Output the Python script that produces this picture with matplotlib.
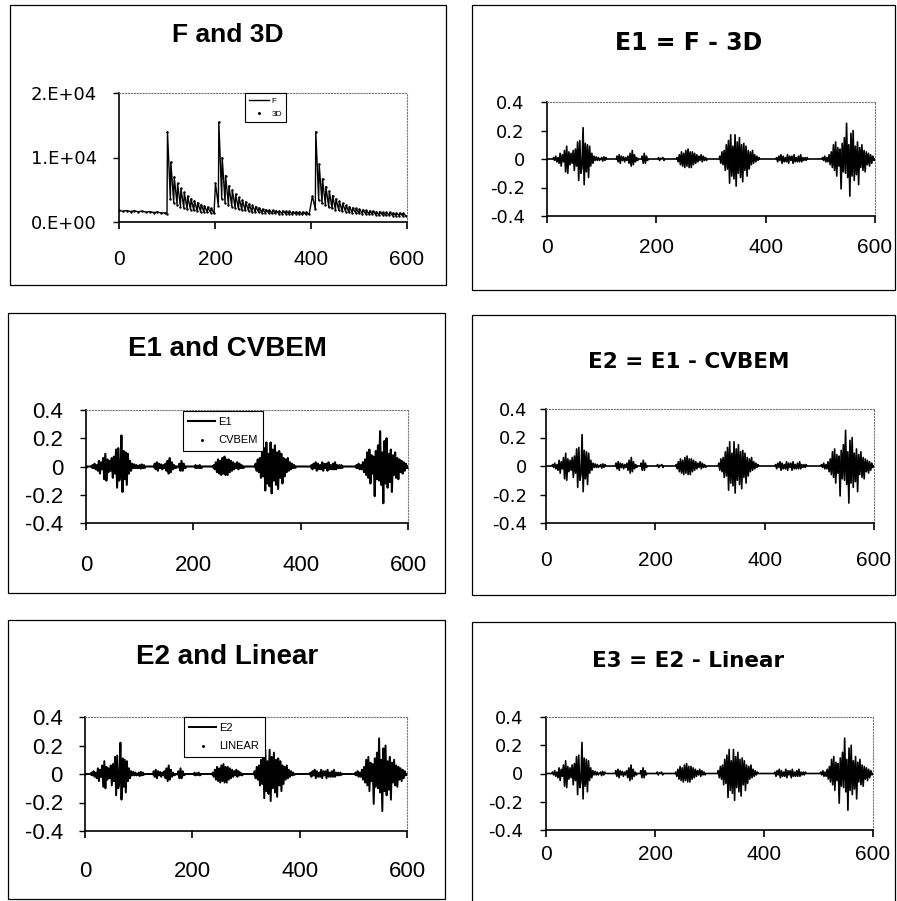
import numpy as np
import matplotlib
matplotlib.use('Agg')
import matplotlib.pyplot as plt
from matplotlib.patches import Rectangle

plt.rcParams['font.family'] = ['Liberation Sans', 'DejaVu Sans']

# ---- F (and 3D) : slow baseline, then three decaying saw-tooth events ----
base_x = [0, 8, 16, 24, 32, 40, 48, 56, 64, 72, 80, 88, 96, 100]
base_y = [1800, 1650, 1780, 1620, 1740, 1580, 1690, 1520, 1620, 1460, 1550, 1400, 1420, 1250]

ev_start = [101, 201, 403]
ev_step = 7
peaks1 = [14000, 9300, 7000, 6000, 5200, 4600, 4000, 3600, 3300, 3000, 2700, 2500, 2300, 2100]
troughs1 = [3500, 3000, 2700, 2400, 2200, 2000, 1900, 1800, 1700, 1600, 1550, 1500, 1450, 1400]
peaks2 = [6000, 15500, 10000, 7200, 5600, 5000, 4300, 3800, 3400, 3100, 2800, 2600, 2400, 2200,
          2000, 1900, 1850, 1800, 1750, 1700, 1700, 1650, 1650, 1600, 1600, 1600, 1550, 1500]
troughs2 = [2500, 3600, 3000, 2600, 2400, 2200, 2000, 1900, 1800, 1700, 1600, 1550, 1500, 1450,
            1400, 1400, 1350, 1350, 1300, 1300, 1300, 1300, 1250, 1250, 1250, 1200, 1200, 1200]
peaks3 = [4000, 14000, 9000, 6700, 5500, 4800, 4100, 3600, 3200, 2900, 2600, 2400, 2200, 2100,
          2000, 1900, 1800, 1700, 1700, 1600, 1600, 1500, 1500, 1500, 1400, 1400, 1400, 1350]
troughs3 = [2000, 3400, 2900, 2600, 2300, 2100, 1900, 1800, 1700, 1600, 1500, 1450, 1400, 1350,
            1300, 1250, 1200, 1200, 1150, 1100, 1100, 1050, 1050, 1000, 1000, 1000, 950, 950]

# ---- E1 = F - 3D : bursts of oscillation, sampled every 2 units, zero in between ----
e_step = 2
burst_start = [12, 100, 128, 174, 204, 238, 316, 420, 504]
burst1 = [0.01, -0.01, 0.02, -0.02, 0.01, -0.03, 0.04, -0.05, 0.03, -0.02, 0.06, -0.09, 0.09, -0.10,
          0.05, -0.04, 0.04, -0.03, 0.06, -0.08, 0.07, -0.05, 0.12, -0.15, 0.13, -0.10, -0.06, 0.22,
          -0.18, 0.11, -0.09, 0.10, -0.13, 0.09, -0.05, 0.04, -0.03, 0.02, -0.01, 0.015, -0.01, 0.01, -0.01]
burst2 = [0.01, -0.015, 0.015, -0.01, 0.01]
burst3 = [0.02, -0.02, 0.03, -0.03, 0.02, -0.01, 0.015, -0.02, 0.01, -0.01, 0.02, -0.03, 0.04, -0.05,
          0.06, -0.04, 0.03, -0.02, 0.01, -0.01]
burst4 = [0.02, -0.03, 0.04, -0.03, 0.02, -0.01]
burst5 = [0.01, -0.01, 0.005, 0.0, 0.01, -0.01]
burst6 = [0.01, -0.02, 0.03, -0.04, 0.05, -0.05, 0.04, -0.06, 0.06, -0.05, 0.07, -0.06, 0.05, -0.06,
          0.05, -0.04, 0.04, -0.03, 0.03, -0.02, 0.02, -0.01, 0.03, -0.02, 0.02, -0.01, 0.01, -0.01]
burst7 = [0.02, -0.03, 0.05, -0.04, 0.06, -0.08, 0.10, -0.07, 0.13, -0.17, 0.17, -0.12, 0.09, -0.14,
          0.17, -0.19, 0.12, -0.10, 0.15, -0.13, 0.10, -0.16, 0.11, -0.08, 0.09, -0.12, 0.06, -0.07,
          0.05, -0.04, 0.06, -0.03, 0.03, -0.02, 0.02, -0.01, 0.01]
burst8 = [0.01, -0.02, 0.02, -0.01, 0.03, -0.03, 0.02, -0.02, 0.01, -0.02, 0.03, -0.03, 0.02, -0.01,
          0.02, -0.03, 0.03, -0.02, 0.01, -0.02, 0.02, -0.02, 0.03, -0.02, 0.01, -0.01, 0.01, -0.01, 0.01]
burst9 = [0.01, -0.01, 0.02, -0.02, 0.01, -0.02, 0.03, -0.04, 0.05, -0.06, 0.10, -0.08, 0.12, -0.12,
          0.08, -0.05, 0.07, -0.21, 0.11, -0.09, 0.15, -0.10, 0.25, -0.13, 0.10, -0.26, 0.18, -0.12,
          0.20, -0.15, 0.09, -0.11, 0.12, -0.18, 0.08, -0.06, 0.10, -0.08, 0.06, -0.09, 0.05, -0.04,
          0.04, -0.05, 0.03, -0.03, 0.02, -0.01]
bursts = [burst1, burst2, burst3, burst4, burst5, burst6, burst7, burst8, burst9]

x_ticks = [0, 200, 400, 600]
f_ticks = [0, 10000, 20000]
f_labels = ['0.E+00', '1.E+04', '2.E+04']
e_ticks = [-0.4, -0.2, 0, 0.2, 0.4]
e_labels = ['-0.4', '-0.2', '0', '0.2', '0.4']

# build the series
f_x, f_y = list(base_x), list(base_y)
for s, pk, tr in zip(ev_start, [peaks1, peaks2, peaks3], [troughs1, troughs2, troughs3]):
    for i, (p, t) in enumerate(zip(pk, tr)):
        f_x += [s + ev_step * i, s + ev_step * i + ev_step - 1]
        f_y += [p, t]
d3_y = list(f_y)  # 3D sits on top of F at this scale

e_x, e1 = [0], [0.0]
for s, b in zip(burst_start, bursts):
    e_x += [s - 1] + list(s + e_step * np.arange(len(b))) + [s + e_step * len(b) - 1]
    e1 += [0.0] + b + [0.0]
e_x.append(600)
e1.append(0.0)
e_x = np.array(e_x)
e1 = np.array(e1)
cvbem = np.zeros_like(e1)
e2 = e1 - cvbem
linear = np.zeros_like(e2)
e3 = e2 - linear

W, H = 897, 901
fig = plt.figure(figsize=(W / 100, H / 100), dpi=100)


def frame(x0, y0, x1, y1):
    fig.patches.append(Rectangle((x0 / W, 1 - y1 / H), (x1 - x0) / W, (y1 - y0) / H,
                                 transform=fig.transFigure, fill=False, ec='black', lw=0.9))


def new_ax(x0, y0, x1, y1):
    return fig.add_axes([x0 / W, 1 - y1 / H, (x1 - x0) / W, (y1 - y0) / H])


def title(x, y, text, size, fam):
    fig.text(x / W, 1 - y / H, text, ha='center', va='center', fontsize=size,
             fontweight='bold', family=fam)


def style(ax, yt, yl, yfs, xfs, ypad, xpad, yfam=None):
    ax.set_xlim(0, 600)
    ax.set_xticks(x_ticks)
    ax.set_yticks(yt)
    ax.set_yticklabels(yl)
    ax.set_ylim(yt[0], yt[-1])
    for s in ['top', 'right']:
        ax.spines[s].set(linestyle=':', color='#777777', lw=0.8)
    for s in ['left', 'bottom']:
        ax.spines[s].set(color='black', lw=1.2)
    ax.tick_params(axis='y', direction='out', length=4, width=1, labelsize=yfs, pad=ypad)
    ax.tick_params(axis='x', direction='out', length=5, width=1.2, labelsize=xfs, pad=xpad)
    if yfam:
        for t in ax.get_yticklabels():
            t.set_family(yfam)


def legend(ax, x, y, fs, sp):
    leg = ax.legend(loc='upper left', bbox_to_anchor=(x, y), frameon=True, fancybox=False,
                    edgecolor='black', framealpha=1, fontsize=fs, handlelength=2.4,
                    handletextpad=0.3, borderpad=0.5, labelspacing=sp, numpoints=1,
                    borderaxespad=0, markerscale=1.5)
    leg.get_frame().set_linewidth(0.8)


# top-left: F and 3D
frame(10, 5, 446, 285)
title(228, 35, 'F and 3D', 19, ['Liberation Sans'])
ax = new_ax(119, 93, 407, 222)
ax.plot(f_x, f_y, color='black', lw=1.0, label='F')
ax.plot(f_x, d3_y, ls='none', marker='.', ms=1.5, color='black', label='3D')
style(ax, f_ticks, f_labels, 13, 15, 12, 15.5, 'DejaVu Sans')
legend(ax, 0.4375, 1.0, 6, 0.6)

# top-right: E1
frame(472, 5, 895, 290)
title(689, 43, 'E1 = F - 3D', 17, ['DejaVu Sans'])
ax = new_ax(547, 102, 875, 216)
ax.plot(e_x, e1, color='black', lw=1.2)
style(ax, e_ticks, e_labels, 13, 15, 12, 11, 'DejaVu Sans')

# middle-left: E1 and CVBEM
frame(8, 313, 445, 593)
title(227, 349, 'E1 and CVBEM', 20, ['Liberation Sans'])
ax = new_ax(86, 410, 408, 523)
ax.plot(e_x, e1, color='black', lw=1.5, label='E1')
ax.plot(e_x, cvbem, ls='none', marker='.', ms=1.5, color='black', label='CVBEM')
style(ax, e_ticks, e_labels, 16, 16, 12.5, 18)
legend(ax, 0.301, 0.991, 8, 0.8)

# middle-right: E2
frame(472, 315, 895, 595)
title(689, 362, 'E2 = E1 - CVBEM', 15.5, ['DejaVu Sans'])
ax = new_ax(546, 409, 874, 523)
ax.plot(e_x, e2, color='black', lw=1.2)
style(ax, e_ticks, e_labels, 13, 15, 9.5, 14.8, 'DejaVu Sans')

# bottom-left: E2 and Linear
frame(8, 620, 445, 899)
title(227, 657, 'E2 and Linear', 20, ['Liberation Sans'])
ax = new_ax(85, 717, 407, 831)
ax.plot(e_x, e2, color='black', lw=1.4, label='E2')
ax.plot(e_x, linear, ls='none', marker='.', ms=1.5, color='black', label='LINEAR')
style(ax, e_ticks, e_labels, 16, 16, 12, 16.5)
legend(ax, 0.307, 1.0, 8, 0.8)

# bottom-right: E3
frame(472, 622, 895, 903)
title(688, 661, 'E3 = E2 - Linear', 15.5, ['DejaVu Sans'])
ax = new_ax(546, 717, 873, 830)
ax.plot(e_x, e3, color='black', lw=1.2)
style(ax, e_ticks, e_labels, 13, 15, 12.5, 6, 'DejaVu Sans')

fig.savefig('out.png', dpi=100)
